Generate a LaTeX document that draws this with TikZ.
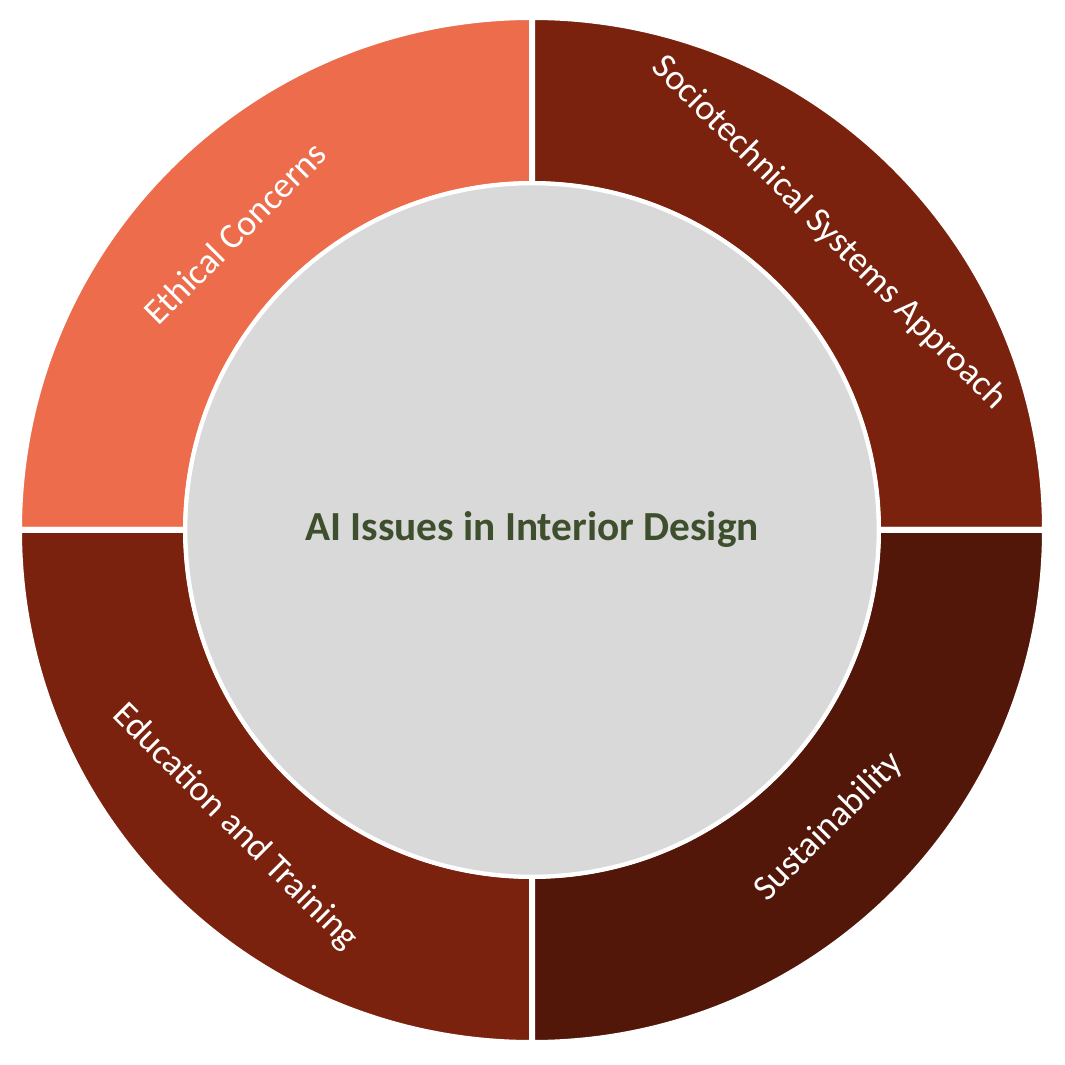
\documentclass[tikz,border=0pt]{standalone}
\usepackage{fontspec}
\setmainfont{Carlito}
\usepackage{tikz,pgffor}
\usetikzlibrary{calc}
\definecolor{EthicCol}{HTML}{EC6C4B}
\definecolor{SocioCol}{HTML}{7A220E}
\definecolor{SustCol}{HTML}{521709}
\definecolor{CoreCol}{HTML}{D9D9D9}
\definecolor{CoreText}{HTML}{3E4F2E}
\tikzset{
	MyRing/.style={draw=white,line width=4.5,line join=miter},
	MyLabel/.style={text=white,font=\fontsize{27}{30}\selectfont},
	MyCore/.style={circle,fill=CoreCol,draw=white,line width=3,minimum size=520pt,inner sep=0}
		}
\begin{document}
\begin{tikzpicture}[x=0.75pt,y=0.75pt]
	\useasboundingbox (0,0) rectangle (1065,1065);
	\coordinate (O) at (532,535);
	\def\R{513}% outer radius
	\def\r{346}% inner radius
	\foreach \a/\col in {90/EthicCol,0/SocioCol,180/SocioCol,270/SustCol}% quadrants
		{\fill[MyRing,fill=\col] ($(O)+(\a:\R)$) arc (\a:\a+90:\R)
			-- ($(O)+(\a+90:\r)$) arc (\a+90:\a:\r) -- cycle;
		}
	\node[MyCore] (core) at (O)
		{\textcolor{CoreText}{\bfseries\fontsize{31}{34}\selectfont AI Issues in Interior Design}};
	\node[MyLabel,rotate=45] (ethic) at ($(O)+(135:420)$) {Ethical Concerns};
	\node[MyLabel,rotate=-45] (socio) at ($(O)+(45:420)$) {Sociotechnical Systems Approach};
	\node[MyLabel,rotate=-45] (edu) at ($(O)+(225:420)$) {Education and Training};
	\node[MyLabel,rotate=45] (sust) at ($(O)+(315:420)$) {Sustainability};
\end{tikzpicture}
\end{document}
